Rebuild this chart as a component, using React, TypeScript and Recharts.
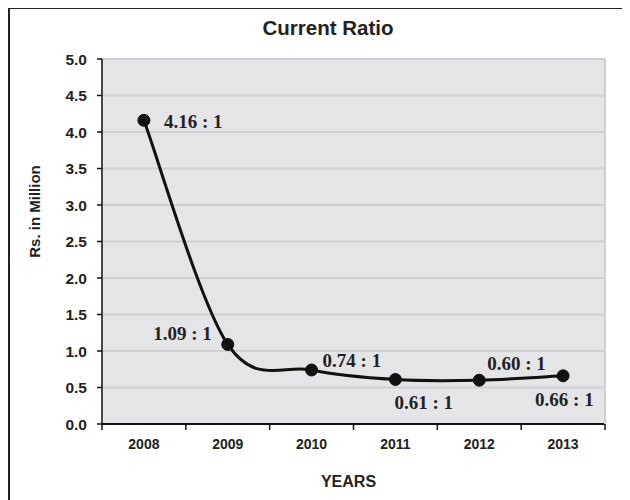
import React from 'react';
import { LineChart, Line, XAxis, YAxis, CartesianGrid, LabelList } from 'recharts';

const years = ['2008', '2009', '2010', '2011', '2012', '2013'];
const ratios = [4.16, 1.09, 0.74, 0.61, 0.6, 0.66];
const yTicks = [0, 0.5, 1, 1.5, 2, 2.5, 3, 3.5, 4, 4.5, 5];

const data = years.map((year, i) => ({ year, ratio: ratios[i] }));

const SANS = '"Liberation Sans", Arial, sans-serif';
const SERIF = '"Liberation Serif", "Times New Roman", serif';
const X_TICK_MARGIN = 15;

// Excel-like smoothed line (Catmull-Rom style Bezier), as a d3 curve factory
function excelSmooth(context: any) {
  let pts: number[][] = [];
  return {
    areaStart() {},
    areaEnd() {},
    lineStart() {
      pts = [];
    },
    lineEnd() {
      const n = pts.length;
      if (n === 0) return;
      context.moveTo(pts[0][0], pts[0][1]);
      for (let i = 0; i < n - 1; i++) {
        const p0 = pts[Math.max(0, i - 1)];
        const p1 = pts[i];
        const p2 = pts[i + 1];
        const p3 = pts[Math.min(n - 1, i + 2)];
        context.bezierCurveTo(
          p1[0] + (p2[0] - p0[0]) / 6,
          p1[1] + (p2[1] - p0[1]) / 6,
          p2[0] - (p3[0] - p1[0]) / 6,
          p2[1] - (p3[1] - p1[1]) / 6,
          p2[0],
          p2[1]
        );
      }
    },
    point(x: number, y: number) {
      pts.push([+x, +y]);
    },
  };
}

// label placement relative to each point (style only)
const labelPlacement = [
  { dx: 20, dy: 1, anchor: 'start' },
  { dx: -16, dy: -11, anchor: 'end' },
  { dx: 11, dy: -9, anchor: 'start' },
  { dx: -1, dy: 23, anchor: 'start' },
  { dx: 8, dy: -17, anchor: 'start' },
  { dx: -28, dy: 24, anchor: 'start' },
];

const RatioLabel = (props: any) => {
  const { x, y, value, index } = props;
  const p = labelPlacement[index] || { dx: 0, dy: -12, anchor: 'middle' };
  return (
    <text
      x={x + p.dx}
      y={y + p.dy}
      textAnchor={p.anchor}
      dominantBaseline="central"
      fontFamily={SERIF}
      fontWeight="bold"
      fontSize={19}
      fill="#222"
    >
      {`${Number(value).toFixed(2)} : 1`}
    </text>
  );
};

// Year label at the band centre, plus tick marks at the band edges
const YearTick = (props: any) => {
  const { x, y, payload, index } = props;
  const half = payload && typeof payload.offset === 'number' ? payload.offset : 0;
  const axisY = y - X_TICK_MARGIN;
  const showEdges = half > 5 && half < 400;
  return (
    <g>
      <text
        x={x}
        y={y}
        dy="0.71em"
        textAnchor="middle"
        fontFamily={SANS}
        fontWeight="bold"
        fontSize={14}
        fill="#222"
      >
        {payload ? payload.value : ''}
      </text>
      {showEdges && (
        <line x1={x - half} x2={x - half} y1={axisY} y2={axisY + 6} stroke="#111" strokeWidth={1.5} />
      )}
      {showEdges && index === years.length - 1 && (
        <line x1={x + half} x2={x + half} y1={axisY} y2={axisY + 6} stroke="#111" strokeWidth={1.5} />
      )}
    </g>
  );
};

const YTitle = (props: any) => {
  const vb = props.viewBox || { x: 0, y: 0, width: 0, height: 0 };
  const cx = vb.x + 26;
  const cy = vb.y + vb.height / 2 - 30;
  return (
    <text
      x={cx}
      y={cy}
      transform={`rotate(-90, ${cx}, ${cy})`}
      textAnchor="middle"
      dominantBaseline="central"
      fontFamily={SANS}
      fontWeight="bold"
      fontSize={15}
      fill="#222"
    >
      Rs. in Million
    </text>
  );
};

const XTitle = (props: any) => {
  const vb = props.viewBox || { x: 0, y: 0, width: 0, height: 0 };
  return (
    <text
      x={vb.x + vb.width / 2 - 5}
      y={vb.y + vb.height - 13}
      textAnchor="middle"
      fontFamily={SANS}
      fontWeight="bold"
      fontSize={16}
      fill="#222"
    >
      YEARS
    </text>
  );
};

export default function App() {
  return (
    <div style={{ position: 'relative', width: 622, height: 492 }}>
      <div
        style={{
          position: 'absolute',
          left: 0,
          top: -1,
          width: 640,
          height: 520,
          borderLeft: '2px solid #222',
          borderTop: '2px solid #222',
          boxSizing: 'border-box',
        }}
      />
      <div
        style={{
          position: 'absolute',
          left: 0,
          top: 8,
          width: 640,
          textAlign: 'center',
          fontFamily: SANS,
          fontWeight: 'bold',
          fontSize: 20.5,
          lineHeight: '24px',
          color: '#222',
        }}
      >
        Current Ratio
      </div>
      <LineChart
        width={622}
        height={492}
        data={data}
        margin={{ top: 51, right: 24, left: 0, bottom: 0 }}
      >
        <CartesianGrid
          vertical={false}
          fill="#e5e5e7"
          stroke="#cfcfd1"
          strokeWidth={2}
          fillOpacity={1}
        />
        <XAxis
          dataKey="year"
          scale="band"
          height={76}
          tickLine={false}
          tickSize={0}
          tickMargin={X_TICK_MARGIN}
          interval={0}
          axisLine={{ stroke: '#111', strokeWidth: 2 }}
          tick={<YearTick />}
          label={<XTitle />}
        />
        <YAxis
          width={94}
          domain={[0, 5]}
          ticks={yTicks}
          tickFormatter={(v: number) => v.toFixed(1)}
          tickSize={5}
          tickMargin={10}
          axisLine={{ stroke: '#111', strokeWidth: 1.5 }}
          tickLine={{ stroke: '#111', strokeWidth: 1.5 }}
          tick={{ fontFamily: SANS, fontWeight: 'bold', fontSize: 15.5, fill: '#222' }}
          label={<YTitle />}
        />
        <YAxis
          yAxisId="right"
          orientation="right"
          width={1}
          domain={[0, 5]}
          tick={false}
          tickLine={false}
          axisLine={{ stroke: '#cfcfd1', strokeWidth: 2 }}
        />
        <Line
          type={excelSmooth as any}
          dataKey="ratio"
          stroke="#111"
          strokeWidth={3}
          dot={{ r: 6, fill: '#111', stroke: '#111', strokeWidth: 1 }}
          activeDot={false}
          isAnimationActive={false}
        >
          <LabelList dataKey="ratio" content={<RatioLabel />} />
        </Line>
      </LineChart>
    </div>
  );
}
